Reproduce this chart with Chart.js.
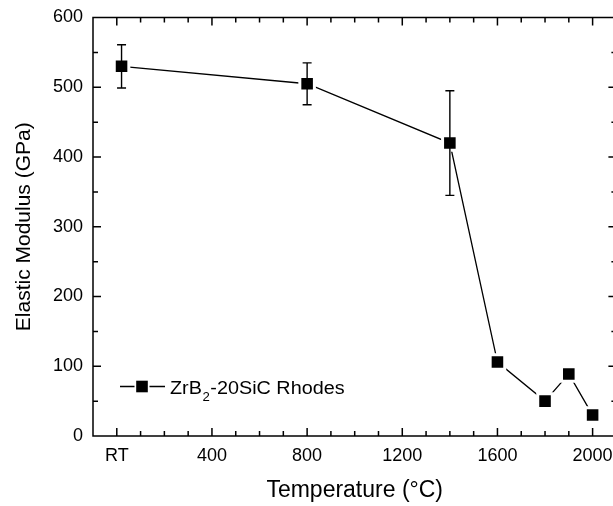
<!DOCTYPE html>
<html>
<head>
<meta charset="utf-8">
<script src="https://cdn.jsdelivr.net/npm/chart.js@4.4.1/dist/chart.umd.min.js"></script>
<style>
  html, body { margin: 0; padding: 0; overflow: hidden; background: #fff; }
  #wrap { width: 630px; height: 506px; }
</style>
</head>
<body>
<div id="wrap"><canvas id="chart" width="630" height="506"></canvas></div>
<script>
// Elastic modulus of ZrB2-20SiC versus test temperature
const temperatures = [20, 800, 1400, 1600, 1800, 1900, 2000];
const modulus = [530, 505, 420, 106, 50, 89, 30];
const modulusError = [31, 30, 75, null, null, null, null];

const xTickValues = [0, 400, 800, 1200, 1600, 2000];
const xTickLabels = ['RT', '400', '800', '1200', '1600', '2000'];
const yTickValues = [0, 100, 200, 300, 400, 500, 600];

// legend text pieces: base, subscript, rest
const seriesName = ['ZrB', '2', '-20SiC Rhodes'];

const FONT = "'Liberation Sans', Arial, Helvetica, sans-serif";

// box frame with inward major/minor ticks on all four sides
const frameTicks = {
  id: 'frameTicks',
  afterDraw(chart) {
    const { ctx, chartArea: a, scales: { x, y } } = chart;
    ctx.save();
    ctx.strokeStyle = '#000';
    ctx.lineWidth = 1.5;
    ctx.strokeRect(a.left, a.top, a.right - a.left, a.bottom - a.top);
    ctx.beginPath();
    for (let v = x.min + 100; v < x.max; v += 100) {
      const px = x.getPixelForValue(v);
      const len = xTickValues.includes(v) ? 8 : 5;
      ctx.moveTo(px, a.bottom); ctx.lineTo(px, a.bottom - len);
      ctx.moveTo(px, a.top); ctx.lineTo(px, a.top + len);
    }
    for (let v = y.min + 50; v < y.max; v += 50) {
      const py = y.getPixelForValue(v);
      const len = yTickValues.includes(v) ? 8 : 5;
      ctx.moveTo(a.left, py); ctx.lineTo(a.left + len, py);
      ctx.moveTo(a.right, py); ctx.lineTo(a.right - len, py);
    }
    ctx.stroke();
    ctx.restore();
  }
};

// vertical error bars with caps
const errorBars = {
  id: 'errorBars',
  afterDatasetsDraw(chart) {
    const { ctx, scales: { x, y } } = chart;
    ctx.save();
    ctx.strokeStyle = '#000';
    ctx.lineWidth = 1.4;
    ctx.beginPath();
    modulusError.forEach((e, i) => {
      if (e == null) return;
      const px = x.getPixelForValue(temperatures[i]);
      const top = y.getPixelForValue(modulus[i] + e);
      const bot = y.getPixelForValue(modulus[i] - e);
      ctx.moveTo(px, top); ctx.lineTo(px, bot);
      ctx.moveTo(px - 4.5, top); ctx.lineTo(px + 4.5, top);
      ctx.moveTo(px - 4.5, bot); ctx.lineTo(px + 4.5, bot);
    });
    ctx.stroke();
    ctx.restore();
  }
};

// in-plot legend: line-marker-line sample and label with subscript
const innerLegend = {
  id: 'innerLegend',
  afterDraw(chart) {
    const { ctx, chartArea: a } = chart;
    const x0 = a.left + 27;
    const yc = a.bottom - 49.5;
    ctx.save();
    ctx.strokeStyle = '#000';
    ctx.lineWidth = 1.3;
    ctx.beginPath();
    ctx.moveTo(x0, yc); ctx.lineTo(x0 + 14.5, yc);
    ctx.moveTo(x0 + 29.5, yc); ctx.lineTo(x0 + 45, yc);
    ctx.stroke();
    ctx.fillStyle = '#000';
    ctx.fillRect(x0 + 16.2, yc - 5.8, 11.6, 11.6);

    ctx.textBaseline = 'alphabetic';
    ctx.textAlign = 'left';
    const base = yc + 7.6;
    ctx.translate(x0 + 50, base);
    ctx.scale(1.1, 1);
    ctx.font = '18px ' + FONT;
    let cx = 0;
    ctx.fillText(seriesName[0], cx, 0);
    cx += ctx.measureText(seriesName[0]).width + 0.5;
    ctx.font = '12px ' + FONT;
    ctx.fillText(seriesName[1], cx, 7);
    cx += ctx.measureText(seriesName[1]).width + 0.5;
    ctx.font = '18px ' + FONT;
    ctx.fillText(seriesName[2], cx, 0);
    ctx.restore();
  }
};

new Chart(document.getElementById('chart'), {
  type: 'line',
  data: {
    datasets: [{
      label: seriesName.join(''),
      data: temperatures.map((t, i) => ({ x: t, y: modulus[i] })),
      borderColor: '#000',
      borderWidth: 1.3,
      tension: 0,
      fill: false,
      pointStyle: 'rect',
      pointRadius: 10.3,
      pointBackgroundColor: '#000',
      pointBorderColor: '#fff',
      pointBorderWidth: 3
    }]
  },
  options: {
    responsive: false,
    animation: false,
    devicePixelRatio: 1,
    layout: { autoPadding: false, padding: { top: 17.5, right: 13.6, left: 0, bottom: 0 } },
    plugins: { legend: { display: false }, tooltip: { enabled: false } },
    scales: {
      x: {
        type: 'linear',
        min: -100,
        max: 2100,
        afterBuildTicks: (s) => { s.ticks = xTickValues.map(v => ({ value: v })); },
        afterFit: (s) => { s.height = 70; s.paddingLeft = 0; s.paddingRight = 0; },
        grid: { display: false, drawTicks: false },
        border: { display: false },
        ticks: {
          padding: 9,
          color: '#000',
          autoSkip: false,
          maxRotation: 0,
          font: { family: FONT, size: 18 },
          callback: (v) => xTickLabels[xTickValues.indexOf(v)]
        },
        title: {
          display: true,
          text: 'Temperature (°C)',
          color: '#000',
          font: { family: FONT, size: 23 },
          padding: { top: 0, bottom: 2 }
        }
      },
      y: {
        min: 0,
        max: 600,
        afterBuildTicks: (s) => { s.ticks = yTickValues.map(v => ({ value: v })); },
        afterFit: (s) => { s.width = 93; s.paddingTop = 0; s.paddingBottom = 0; },
        grid: { display: false, drawTicks: false },
        border: { display: false },
        ticks: {
          padding: 10,
          color: '#000',
          font: { family: FONT, size: 18 }
        },
        title: {
          display: true,
          text: 'Elastic Modulus (GPa)',
          color: '#000',
          font: { family: FONT, size: 21 },
          padding: { top: 11.4, bottom: 0 }
        }
      }
    }
  },
  plugins: [errorBars, frameTicks, innerLegend]
});
</script>
</body>
</html>
